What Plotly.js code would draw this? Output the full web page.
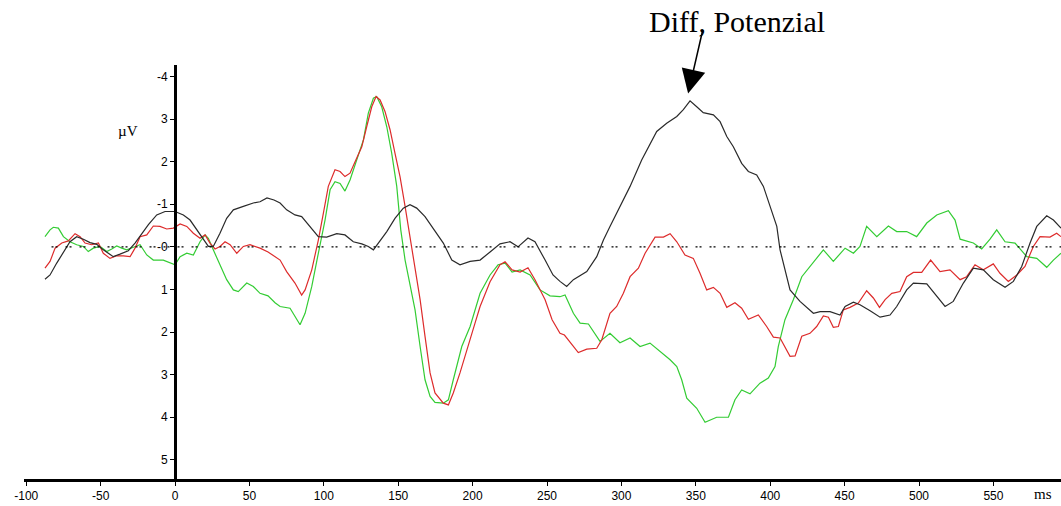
<!DOCTYPE html>
<html>
<head>
<meta charset="utf-8">
<script src="https://cdn.plot.ly/plotly-3.0.1.min.js"></script>
<style>
  html, body { margin: 0; padding: 0; background: #ffffff; }
  #chart { width: 1061px; height: 506px; }
</style>
</head>
<body>
<div id="chart"></div>
<script>
// ERP traces: time in ms, amplitude in µV (negative plotted upward)
const blackMs = [-87.4,-84,-79.5,-75,-70.6,-66.1,-61.6,-57.1,-52.6,-48.2,-41.5,-37,-31.4,-26.9,-22.4,-17.9,-12.3,-6.7,0,5.6,10.1,14.6,19,22.4,25.7,30.2,34.7,39.2,45.9,52.6,57.1,61.8,66.5,70.6,75,80.6,85.1,90.7,96.3,101.9,108.7,114.2,119.8,125.5,129.9,133.3,136.6,142.3,147.8,153.4,157.9,162.4,168,173.6,180.3,186,191.5,198.3,205,211.7,218.4,225.1,230.5,237.2,241.9,248.7,254,258.7,263.2,267.7,276.7,283.4,287.9,292.3,299,305.8,313.6,319.2,323.7,330.4,337.2,341.6,346.1,350.6,355,361.8,366.3,370.8,375.2,380.8,385.3,390.9,395.4,399.9,404.4,406.6,410,413.3,420,429,433.5,440.2,446.9,450.3,455.9,460.3,467.1,473.8,480.5,485,491.7,496.2,505.2,511.9,517.5,523,529.8,536.5,543.2,549.9,557.8,563.4,569,574.6,579.1,585.8,590.3,595.4];
const blackUv = [0.76,0.66,0.38,0.11,-0.12,-0.24,-0.18,-0.10,-0.06,0.07,0.23,0.17,0.09,-0.09,-0.32,-0.52,-0.75,-0.83,-0.83,-0.75,-0.63,-0.40,-0.20,-0.01,-0.01,-0.32,-0.67,-0.87,-0.95,-1.03,-1.06,-1.15,-1.10,-1.03,-0.87,-0.75,-0.71,-0.48,-0.24,-0.23,-0.31,-0.28,-0.12,-0.07,-0.01,0.07,-0.09,-0.36,-0.67,-0.91,-0.99,-0.91,-0.71,-0.44,-0.09,0.31,0.42,0.34,0.31,0.12,-0.07,-0.12,0,-0.21,-0.12,0.31,0.66,0.81,0.93,0.77,0.58,0.23,-0.16,-0.48,-0.95,-1.42,-2.04,-2.43,-2.71,-2.90,-3.06,-3.22,-3.43,-3.29,-3.15,-3.10,-2.94,-2.59,-2.35,-1.96,-1.77,-1.69,-1.42,-0.95,-0.48,0.07,0.54,1.01,1.28,1.56,1.52,1.52,1.60,1.40,1.30,1.36,1.50,1.65,1.60,1.40,1.01,0.85,0.87,1.17,1.40,1.28,0.85,0.50,0.54,0.77,0.95,0.81,0.46,-0.09,-0.48,-0.73,-0.63,-0.44];

const redMs = [-87.4,-84,-80.6,-76.1,-71.7,-67.2,-63.8,-60.5,-56,-51.5,-48.2,-43.7,-39.2,-34.7,-30.2,-26.9,-23.5,-19,-14.6,-10.1,-5.6,-1.1,3.4,7.9,12.3,16.8,20.2,23.5,26.9,30.2,33.6,37,41.5,45.9,50.4,57.1,62.5,70.6,75,80.6,85.1,87.4,91.9,96.3,99.7,103,107.5,110.9,114.2,117.6,121,125.5,128.8,132.2,135.1,137.8,141.1,144.5,147.8,151.2,154.6,157.9,161.3,164.7,168,171.4,174.7,180.3,183.7,187,191.5,197.1,201.6,205,211.7,218.4,221.8,226.5,231.9,237.2,241.9,248.7,253.4,258.7,261.7,271,276.7,283.4,286.8,292.3,296.8,301.3,305.8,311.4,315.9,322.6,328.2,332.7,337.2,342.7,348.3,352.8,357.3,361.8,366.3,370.8,376.3,380.8,385.3,392,397.6,402.1,406.6,413.3,416.7,421.2,426.7,431.2,435.7,439.1,442.4,445.8,449.1,453.6,459.2,464.8,469.3,473.4,477.2,481.7,487.2,491.7,496.2,501.8,507.8,514.1,520.8,527.6,532,537.6,543.2,549.9,554.4,560,565.7,571.2,576.8,581.3,588,592.5,595.4];
const redUv = [0.50,0.34,0.03,-0.09,-0.14,-0.31,-0.24,-0.09,-0.05,-0.09,0.15,0.27,0.21,0.21,0.23,0.03,-0.24,-0.28,-0.49,-0.48,-0.42,-0.44,-0.54,-0.48,-0.32,-0.20,-0.28,-0.09,0.05,-0.01,-0.12,-0.05,0.15,-0.01,-0.05,0.03,0.12,0.31,0.58,0.85,1.13,1.01,0.54,-0.16,-0.79,-1.42,-1.81,-1.77,-1.65,-1.73,-2.00,-2.35,-2.82,-3.29,-3.53,-3.45,-3.18,-2.75,-2.20,-1.65,-0.95,-0.24,0.46,1.24,2.10,2.96,3.43,3.67,3.71,3.43,2.96,2.34,1.79,1.40,0.82,0.42,0.35,0.54,0.59,0.49,0.77,1.24,1.71,2.03,2.07,2.48,2.40,2.38,2.18,1.56,1.40,1.09,0.70,0.50,0.15,-0.23,-0.23,-0.31,-0.12,0.19,0.27,0.62,1.01,0.95,1.09,1.42,1.31,1.44,1.70,1.60,1.87,2.12,2.14,2.57,2.56,2.10,2.03,1.87,1.62,1.65,1.89,1.87,1.48,1.42,1.32,1.03,1.20,1.42,1.24,1.09,1.05,0.70,0.60,0.60,0.31,0.58,0.54,0.77,0.70,0.42,0.54,0.40,0.62,0.81,0.66,0.46,-0.01,-0.24,-0.23,-0.32,-0.24];

const greenMs = [-87.4,-84,-81.8,-78.4,-75,-70.6,-66.1,-61.6,-58.3,-54.9,-50.4,-45.9,-42.5,-39.2,-35.8,-32.5,-28,-23.5,-19,-14.6,-7.9,-3.4,0,3.4,7.9,12.3,16.8,20.2,22.4,25.7,30.2,34.7,39.2,42.5,48.2,52.6,57.1,62.5,67.2,70.6,77.3,84,87.4,91.9,96.3,100.8,104.2,107.5,110.9,114.2,117.6,122.1,126.6,129.9,133.3,135.5,138.9,142.3,145.6,149,151.7,154.6,157.9,161.3,164.7,168,171.4,174.7,180.3,183.7,187,192.7,198.3,202.8,205,211.7,217.1,221.8,226.5,231.9,238.6,245.3,252,258.7,262.1,267.7,272.2,277.8,285.6,292.3,299,305.8,312.5,319.2,325.9,332.7,337.2,340.5,343.9,350.6,356.2,364,371.9,376.3,380.8,386.4,393.1,398.7,403.2,405.4,409.9,415.5,421.2,427.9,435.7,442.4,450.3,455.9,460.3,464.8,471.6,479.4,485,491.7,498.4,505.2,511.9,519.7,524.2,527.6,536.5,542.1,547.7,552.2,557.8,564.5,572.4,579.1,585.8,590.3,595.4];
const greenUv = [-0.24,-0.40,-0.46,-0.44,-0.24,-0.12,-0.05,-0.01,0.11,0.03,-0.01,0.11,0.05,-0.02,0.03,0.07,0.01,-0.05,0.19,0.31,0.31,0.38,0.42,0.23,0.15,0.19,-0.12,-0.28,-0.20,0.07,0.42,0.77,1.01,1.05,0.85,0.93,1.09,1.15,1.31,1.40,1.44,1.83,1.56,0.93,0.15,-0.63,-1.34,-1.53,-1.49,-1.31,-1.57,-2.04,-2.51,-3.14,-3.49,-3.53,-3.29,-2.82,-2.20,-1.42,-0.40,0.31,0.93,1.48,2.34,3.12,3.51,3.65,3.67,3.59,3.12,2.34,1.87,1.32,1.09,0.66,0.42,0.38,0.59,0.54,0.66,1.01,1.15,1.17,1.13,1.56,1.79,1.81,2.22,2.03,2.25,2.14,2.34,2.26,2.46,2.65,2.81,3.12,3.55,3.79,4.12,4.00,4.00,3.59,3.36,3.45,3.20,3.08,2.81,2.34,1.71,1.24,0.70,0.42,0.07,0.34,0.03,0.15,-0.01,-0.48,-0.24,-0.49,-0.36,-0.36,-0.24,-0.56,-0.75,-0.85,-0.63,-0.18,-0.09,0.05,-0.18,-0.40,-0.12,-0.09,0.23,0.27,0.48,0.31,0.15];

// Axis ticks
const xTicks = [-100,-50,0,50,100,150,200,250,300,350,400,450,500,550];
const yTicks = [-4,-3,-2,-1,0,1,2,3,4,5];
const yTickText = ['-4','3','2','-1','-0','1','2','3','4','5'];

const xRange = [-101.5, 595.4];
const yRange = [5.45, -4.27];

function trace(x, y, color) {
  return {
    x: x, y: y, type: 'scatter', mode: 'lines',
    line: { color: color, width: 1.2 },
    hoverinfo: 'skip', showlegend: false
  };
}

const data = [
  trace(greenMs, greenUv, '#33cc33'),
  trace(redMs, redUv, '#dd2b2b'),
  trace(blackMs, blackUv, '#2a2a2a')
];

const tickFont = { family: 'Liberation Sans, Arial, sans-serif', size: 12, color: '#000' };

const layout = {
  width: 1061, height: 506,
  margin: { l: 24, r: 0, t: 65, b: 27 },
  paper_bgcolor: '#ffffff', plot_bgcolor: '#ffffff',
  showlegend: false,
  xaxis: {
    range: xRange, tickvals: xTicks, ticktext: xTicks.map(String),
    showgrid: false, zeroline: false,
    showline: true, linecolor: '#000', linewidth: 3,
    ticks: 'outside', ticklen: 4, tickwidth: 1, tickcolor: '#000',
    tickfont: tickFont
  },
  yaxis: {
    range: yRange, tickvals: yTicks, ticktext: yTickText,
    anchor: 'free', position: (0 - xRange[0]) / (xRange[1] - xRange[0]),
    showgrid: false, zeroline: false,
    showline: true, linecolor: '#000', linewidth: 3,
    ticks: 'outside', ticklen: 4, tickwidth: 1, tickcolor: '#000',
    tickfont: tickFont
  },
  shapes: [{
    type: 'line', xref: 'x', yref: 'y',
    x0: -83, x1: xRange[1], y0: 0, y1: 0,
    line: { color: '#000', width: 1.2, dash: '2px,2px,2px,8px' }
  }],
  annotations: [
    {
      text: 'Diff, Potenzial', xref: 'paper', yref: 'paper',
      x: (737 - 24) / 1037, y: (479 - 22) / 414, xanchor: 'center', yanchor: 'middle',
      showarrow: false,
      font: { family: 'Liberation Serif, Times New Roman, serif', size: 30, color: '#000' }
    },
    {
      text: '', x: 344.8, y: -3.6, xref: 'x', yref: 'y',
      showarrow: true, ax: 15, ay: -65,
      arrowhead: 2, arrowsize: 3.2, arrowwidth: 1.5, arrowcolor: '#000'
    },
    {
      text: 'µV', xref: 'paper', yref: 'paper',
      x: (128 - 24) / 1037, y: (479 - 131) / 414, xanchor: 'center', yanchor: 'middle',
      showarrow: false,
      font: { family: 'Liberation Serif, Times New Roman, serif', size: 15, color: '#000' }
    },
    {
      text: 'ms', xref: 'paper', yref: 'paper',
      x: (1043 - 24) / 1037, y: (479 - 494) / 414, xanchor: 'center', yanchor: 'middle',
      showarrow: false,
      font: { family: 'Liberation Serif, Times New Roman, serif', size: 15, color: '#000' }
    }
  ]
};

Plotly.newPlot('chart', data, layout, { staticPlot: true, displayModeBar: false });
</script>
</body>
</html>
